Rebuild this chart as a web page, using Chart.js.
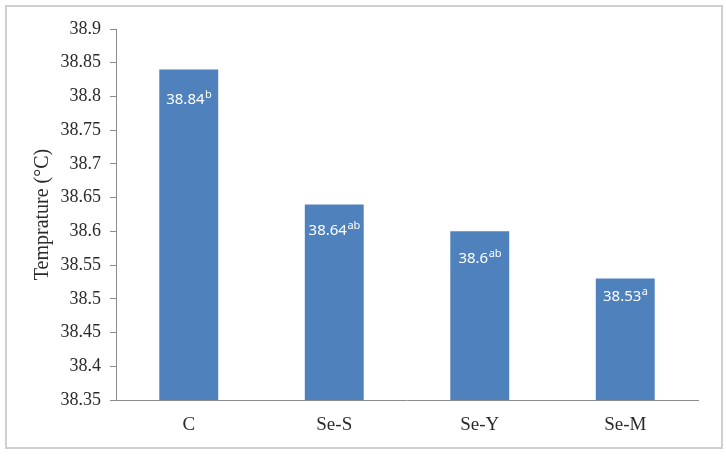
<!DOCTYPE html>
<html>
<head>
<meta charset="utf-8">
<script src="https://cdn.jsdelivr.net/npm/chart.js@4.4.0/dist/chart.umd.min.js"></script>
<style>
  body { margin: 0; background: #fff; }
  #frame { position: absolute; left: 5px; top: 5px; width: 714px; height: 440px; border: 2px solid #cfcfcf; }
  #wrap { position: absolute; left: 0; top: 0; width: 726px; height: 458px; }
</style>
</head>
<body>
<div id="frame"></div>
<div id="wrap"><canvas id="myChart" width="726" height="458"></canvas></div>
<script>
// values
var groups = ["C", "Se-S", "Se-Y", "Se-M"];
var temps = [38.84, 38.64, 38.6, 38.53];
var letters = ["b", "ab", "ab", "a"];

// how far below the bar top each label sits
var labelDrop = [30, 26, 27, 18];

var barLabels = {
    id: 'barLabels',
    afterDatasetsDraw: function (chart) {
        var ctx = chart.ctx;
        var meta = chart.getDatasetMeta(0);
        ctx.save();
        ctx.fillStyle = '#ffffff';
        ctx.textBaseline = 'middle';
        meta.data.forEach(function (bar, i) {
            var main = String(temps[i]);
            var sup = letters[i];
            ctx.font = '15px "Noto Sans"';
            var w1 = ctx.measureText(main).width;
            ctx.font = '11px "Noto Sans"';
            var w2 = ctx.measureText(sup).width;
            var x = bar.x - (w1 + w2) / 2;
            var y = bar.y + labelDrop[i];
            ctx.textAlign = 'left';
            ctx.font = '15px "Noto Sans"';
            ctx.fillText(main, x, y);
            ctx.font = '11px "Noto Sans"';
            ctx.fillText(sup, x + w1 + 0.5, y - 5);
        });
        ctx.restore();
    }
};

var serif = '"Liberation Serif", "Times New Roman"';

var ctx = document.getElementById("myChart").getContext("2d");
var myChart = new Chart(ctx, {
    type: 'bar',
    data: {
        labels: groups,
        datasets: [{
            data: temps,
            backgroundColor: '#4f81bd',
            borderWidth: 0,
            barPercentage: 0.405,
            categoryPercentage: 1
        }]
    },
    options: {
        responsive: false,
        animation: false,
        layout: { padding: { left: 0, top: 29, right: 28, bottom: 0 } },
        plugins: { legend: { display: false }, tooltip: { enabled: false } },
        scales: {
            y: {
                min: 38.35,
                max: 38.9,
                afterFit: function (scale) { scale.width = 116; },
                ticks: {
                    stepSize: 0.05,
                    color: '#2a2a2a',
                    padding: 9,
                    font: { family: serif, size: 18 },
                    callback: function (v) { return String(Number(v.toFixed(2))); }
                },
                grid: { drawOnChartArea: false, drawTicks: true, tickLength: 6, color: '#8c8c8c' },
                border: { display: true, color: '#8c8c8c', width: 1 },
                title: {
                    display: true,
                    text: 'Temprature (°C)',
                    color: '#2a2a2a',
                    padding: { top: 31, bottom: 0 },
                    font: { family: serif, size: 20 }
                }
            },
            x: {
                afterFit: function (scale) { scale.height = 58; },
                ticks: {
                    color: '#2a2a2a',
                    padding: 14,
                    font: { family: serif, size: 19 }
                },
                grid: { display: false, drawTicks: false },
                border: { display: true, color: '#8c8c8c', width: 1 }
            }
        }
    },
    plugins: [barLabels]
});
</script>
</body>
</html>
